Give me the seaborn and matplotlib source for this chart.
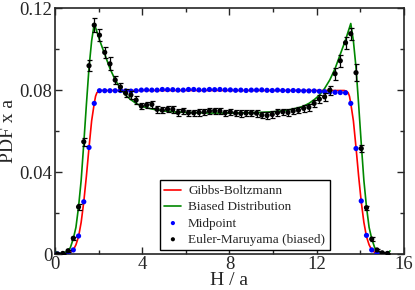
import numpy as np
import pandas as pd
import matplotlib
matplotlib.use("Agg")
import matplotlib.pyplot as plt
import seaborn as sns
from matplotlib.ticker import MultipleLocator, FuncFormatter

# bin centres of the sampled histograms
bin_h = [0.12 + 0.24 * k for k in range(64)]

midpoint_pdf = [
    0.0000, 0.0000, 0.0002, 0.0020, 0.0088, 0.0255, 0.0520, 0.0735,
    0.0797, 0.0797, 0.0797, 0.0797, 0.0798, 0.0796, 0.0795, 0.0797,
    0.0800, 0.0801, 0.0800, 0.0800, 0.0803, 0.0802, 0.0802, 0.0800,
    0.0800, 0.0803, 0.0803, 0.0801, 0.0800, 0.0803, 0.0802, 0.0803,
    0.0801, 0.0801, 0.0799, 0.0800, 0.0798, 0.0800, 0.0800, 0.0801,
    0.0799, 0.0798, 0.0800, 0.0798, 0.0797, 0.0798, 0.0797, 0.0796,
    0.0796, 0.0796, 0.0794, 0.0792, 0.0791, 0.0789, 0.0788, 0.0787,
    0.0735, 0.0515, 0.0259, 0.0091, 0.0020, 0.0002, 0.0000, 0.0000,
]

euler_pdf = [
    0.0000, 0.0003, 0.0016, 0.0077, 0.0230, 0.0548, 0.0919, 0.1117,
    0.1068, 0.0984, 0.0928, 0.0849, 0.0815, 0.0785, 0.0776, 0.0751,
    0.0722, 0.0727, 0.0730, 0.0706, 0.0702, 0.0707, 0.0706, 0.0691,
    0.0699, 0.0689, 0.0689, 0.0691, 0.0693, 0.0698, 0.0699, 0.0698,
    0.0689, 0.0693, 0.0688, 0.0686, 0.0688, 0.0688, 0.0687, 0.0678,
    0.0676, 0.0681, 0.0690, 0.0694, 0.0691, 0.0698, 0.0702, 0.0711,
    0.0716, 0.0735, 0.0756, 0.0767, 0.0800, 0.0880, 0.0943, 0.1031,
    0.1075, 0.0885, 0.0515, 0.0226, 0.0073, 0.0020, 0.0006, 0.0003,
]

euler_err = [
    0.0003, 0.0003, 0.0005, 0.0008, 0.0015, 0.0020, 0.0028, 0.0035,
    0.0030, 0.0025, 0.0032, 0.0020, 0.0020, 0.0018, 0.0018, 0.0018,
    0.0016, 0.0016, 0.0018, 0.0016, 0.0016, 0.0016, 0.0016, 0.0016,
    0.0016, 0.0016, 0.0016, 0.0016, 0.0016, 0.0016, 0.0016, 0.0016,
    0.0016, 0.0016, 0.0016, 0.0016, 0.0016, 0.0016, 0.0016, 0.0016,
    0.0016, 0.0016, 0.0016, 0.0016, 0.0016, 0.0016, 0.0016, 0.0016,
    0.0016, 0.0018, 0.0018, 0.0020, 0.0022, 0.0030, 0.0030, 0.0030,
    0.0030, 0.0042, 0.0015, 0.0010, 0.0008, 0.0005, 0.0003, 0.0003,
]

# Gibbs-Boltzmann curve
gibbs_h = [0.0, 0.30, 0.50, 0.70, 0.84, 0.96, 1.08, 1.20, 1.32, 1.44, 1.56,
           1.68, 1.80, 1.86, 1.92, 2.00, 2.10, 7.68,
           13.26, 13.36, 13.44, 13.50, 13.56, 13.68, 13.80, 13.92, 14.04,
           14.16, 14.28, 14.40, 14.52, 14.66, 14.86, 15.06, 15.36]
gibbs_pdf = [0.0, 0.0, 0.0001, 0.0008, 0.0020, 0.0045, 0.0085, 0.0155,
             0.0255, 0.0380, 0.0520, 0.0650, 0.0735, 0.0770, 0.0787,
             0.0795, 0.0798, 0.0798,
             0.0798, 0.0795, 0.0787, 0.0770, 0.0735, 0.0650, 0.0520,
             0.0380, 0.0255, 0.0155, 0.0085, 0.0045, 0.0020, 0.0008,
             0.0001, 0.0, 0.0]

# biased distribution curve
biased_h = [0.0, 0.12, 0.30, 0.50, 0.70, 0.84, 0.96, 1.08, 1.20, 1.32,
            1.44, 1.56, 1.68, 1.80, 1.92, 2.04, 2.28, 2.52, 2.76, 3.00,
            3.24, 3.48, 3.72, 3.96, 4.20, 4.44, 4.68, 4.92, 5.40, 6.00,
            6.60, 7.20, 7.68, 8.16, 8.76, 9.36, 9.96, 10.44, 10.68, 10.92,
            11.16, 11.40, 11.64, 11.88, 12.12, 12.36, 12.60, 12.84, 13.08,
            13.32, 13.44, 13.56, 13.68, 13.80, 13.92, 14.04, 14.16, 14.28,
            14.40, 14.52, 14.66, 14.86, 15.06, 15.24, 15.36]
biased_pdf = [0.0015, 0.0005, 0.0003, 0.0010, 0.0030, 0.0075, 0.0130,
              0.0230, 0.0360, 0.0540, 0.0730, 0.0910, 0.1040, 0.1125,
              0.1085, 0.1045, 0.0975, 0.0905, 0.0850, 0.0808, 0.0775,
              0.0753, 0.0735, 0.0722, 0.0714, 0.0708, 0.0703, 0.0699,
              0.0694, 0.0691, 0.0689, 0.0688, 0.0688, 0.0688, 0.0689,
              0.0691, 0.0694, 0.0699, 0.0703, 0.0708, 0.0714, 0.0722,
              0.0735, 0.0753, 0.0775, 0.0808, 0.0850, 0.0905, 0.0975,
              0.1045, 0.1085, 0.1125, 0.1040, 0.0910, 0.0730, 0.0540,
              0.0360, 0.0230, 0.0130, 0.0075, 0.0030, 0.0010, 0.0003,
              0.0005, 0.0015]

sns.set_style("ticks")
plt.rcParams["font.family"] = ["Liberation Serif", "DejaVu Serif"]

fig = plt.figure(figsize=(4.15, 2.9), dpi=100)
ax = fig.add_axes([0.1325, 0.124, 0.841, 0.848])

gibbs = pd.DataFrame({"h": gibbs_h, "pdf": gibbs_pdf})
biased = pd.DataFrame({"h": biased_h, "pdf": biased_pdf})
points = pd.DataFrame({"h": bin_h, "mid": midpoint_pdf,
                       "em": euler_pdf, "err": euler_err})

sns.lineplot(data=gibbs, x="h", y="pdf", color="#ff0000", lw=1.2,
             estimator=None, label="Gibbs-Boltzmann", ax=ax)
sns.lineplot(data=biased, x="h", y="pdf", color="#008800", lw=1.2,
             estimator=None, label="Biased Distribution", ax=ax)
sns.scatterplot(data=points, x="h", y="mid", color="#0000ff", s=14,
                edgecolor="none", label="Midpoint", ax=ax, zorder=3)
ax.errorbar(points["h"], points["em"], yerr=points["err"], fmt="none",
            ecolor="black", elinewidth=0.9, capsize=1.8, capthick=0.9,
            zorder=4)
sns.scatterplot(data=points, x="h", y="em", color="black", s=14,
                edgecolor="none", label="Euler-Maruyama (biased)", ax=ax,
                zorder=5)

ax.set_xlim(0, 16)
ax.set_ylim(0, 0.12)
ax.xaxis.set_major_locator(MultipleLocator(4))
ax.xaxis.set_minor_locator(MultipleLocator(2))
ax.yaxis.set_major_locator(MultipleLocator(0.04))
ax.yaxis.set_minor_locator(MultipleLocator(0.02))
ax.xaxis.set_major_formatter(FuncFormatter(lambda v, p: f"{v:g}"))
ax.yaxis.set_major_formatter(FuncFormatter(lambda v, p: "0" if v == 0 else f"{v:.2f}"))
ax.tick_params(which="both", direction="in", top=True, right=True,
               labelsize=13.5, width=1.0)
ax.tick_params(axis="x", pad=1.5)
ax.tick_params(axis="y", pad=2)
ax.tick_params(which="major", length=5)
ax.tick_params(which="minor", length=3)
for sp in ax.spines.values():
    sp.set_linewidth(1.2)

ax.set_xlabel("H / a", fontsize=14, labelpad=-1)
ax.set_ylabel("PDF x a", fontsize=14, labelpad=1.5)

leg = ax.legend(loc="lower left", bbox_to_anchor=(0.30, 0.015),
                fontsize=9.5, frameon=True, fancybox=False, framealpha=1,
                edgecolor="black", handlelength=1.3, handletextpad=0.5,
                labelspacing=0.3, borderpad=0.35, borderaxespad=0,
                markerscale=0.8)
leg.get_frame().set_linewidth(1.0)

fig.savefig("out.png", dpi=100)
